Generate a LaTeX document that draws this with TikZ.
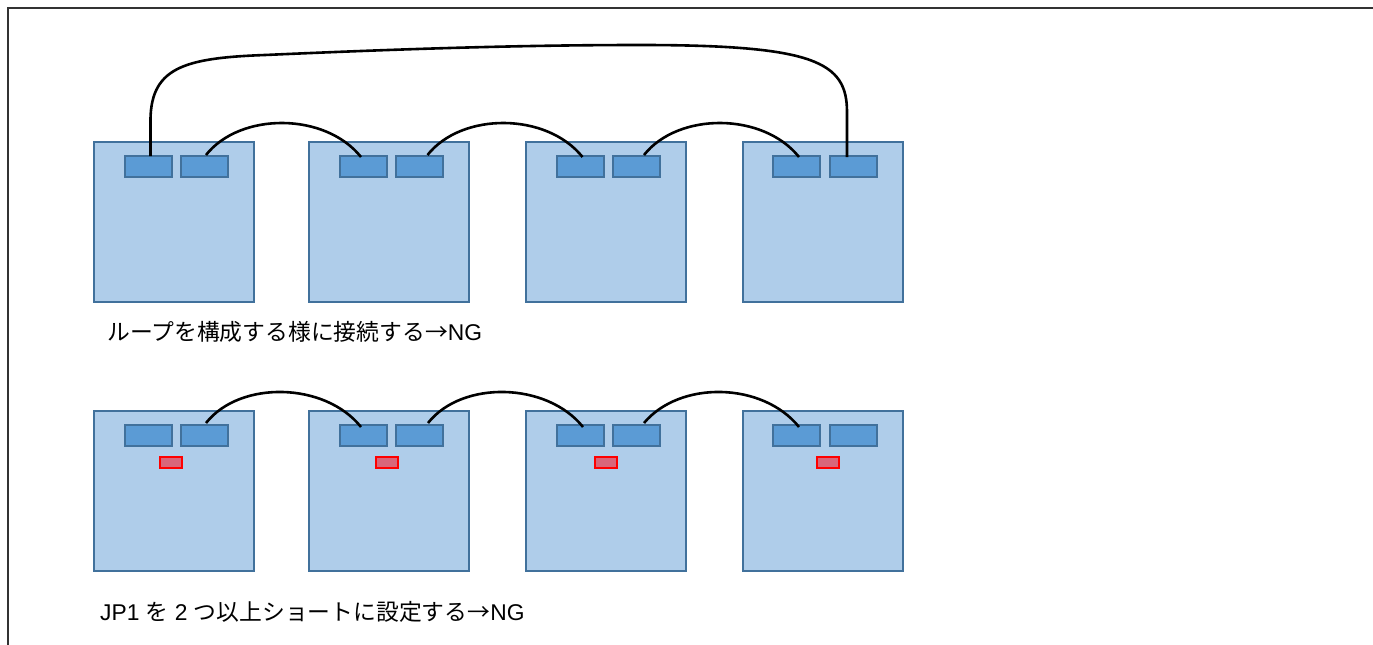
\documentclass[tikz,border=0pt]{standalone}
\usepackage{fontspec}
\setmainfont{Liberation Sans}
\newfontfamily\jp{Noto Sans CJK JP}
\usetikzlibrary{calc}
\definecolor{boxfill}{RGB}{175,205,234}
\definecolor{boxline}{RGB}{65,113,156}
\definecolor{portfill}{RGB}{91,155,213}
\definecolor{redfill}{RGB}{217,102,122}
\definecolor{frameline}{RGB}{50,50,50}
\tikzset{
  board/.style={draw=boxline, fill=boxfill, line width=2pt, minimum width=160pt, minimum height=160pt, inner sep=0pt, outer sep=0pt},
  port/.style={draw=boxline, fill=portfill, line width=2pt, minimum width=47pt, minimum height=21pt, inner sep=0pt, outer sep=0pt},
  jumper/.style={draw=red, fill=redfill, line width=2pt, minimum width=22pt, minimum height=11pt, inner sep=0pt, outer sep=0pt},
  wire/.style={draw=black, line width=2.6pt},
  caption/.style={anchor=base west, inner sep=0pt, font=\fontsize{22.8}{27}\selectfont}
}
\begin{document}
\begin{tikzpicture}[x=1pt,y=-1pt]
\useasboundingbox (0,0) rectangle (1373,645);
\draw[frameline, line width=1.5pt] (8,645) -- (8,8) -- (1373,8);
% row 1
\node[board] (a1) at (173.75,222) {};
\node[board] (a2) at (389,222) {};
\node[board] (a3) at (606,222) {};
\node[board] (a4) at (822.5,222) {};
\node[port] (p11) at (148.5,166.5) {};
\node[port] (p12) at (204.5,166.5) {};
\node[port] (p21) at (363.5,166.5) {};
\node[port] (p22) at (419.5,166.5) {};
\node[port] (p31) at (580.5,166.5) {};
\node[port] (p32) at (636.5,166.5) {};
\node[port] (p41) at (796.5,166.5) {};
\node[port] (p42) at (853.5,166.5) {};
% row 2
\node[board] (b1) at (173.75,490.5) {};
\node[board] (b2) at (389,490.5) {};
\node[board] (b3) at (606,490.5) {};
\node[board] (b4) at (822.5,490.5) {};
\node[port] (q11) at (148.5,435.5) {};
\node[port] (q12) at (204.5,435.5) {};
\node[port] (q21) at (363.5,435.5) {};
\node[port] (q22) at (419.5,435.5) {};
\node[port] (q31) at (580.5,435.5) {};
\node[port] (q32) at (636.5,435.5) {};
\node[port] (q41) at (796.5,435.5) {};
\node[port] (q42) at (853.5,435.5) {};
\node[jumper] (j1) at (171,462.5) {};
\node[jumper] (j2) at (386.5,462.5) {};
\node[jumper] (j3) at (606.3,462.5) {};
\node[jumper] (j4) at (827.8,462.5) {};
% row 1 wires
\draw[wire] ($(p12.north)+(1.5,-1)$) .. controls +(34,-43) and +(-36,-45) .. ($(p21.north)+(-2.5,1)$);
\draw[wire] ($(p22.north)+(8,-1)$) .. controls +(34,-43) and +(-36,-45) .. ($(p31.north)+(2,1)$);
\draw[wire] ($(p32.north)+(7.5,-1)$) .. controls +(34,-43) and +(-36,-45) .. ($(p41.north)+(2.5,1)$);
\draw[wire] ($(p11.north)+(2,0)$) -- (150.5,125) .. controls (149,68) and (182,58) .. (265,55)
  .. controls (400,49) and (520,45) .. (640,45)
  .. controls (815,45) and (847,62) .. (847,112) -- ($(p42.north)+(-6.5,1)$);
% row 2 wires
\draw[wire] ($(q12.north)+(1.5,-2)$) .. controls +(34,-43) and +(-36,-45) .. ($(q21.north)+(-2.5,2)$);
\draw[wire] ($(q22.north)+(8.5,-2)$) .. controls +(34,-43) and +(-36,-45) .. ($(q31.north)+(2.5,2)$);
\draw[wire] ($(q32.north)+(7.5,-2)$) .. controls +(36,-43) and +(-36,-45) .. ($(q41.north)+(2.5,2)$);
% captions
\node[caption] (t1) at (107,340) {{\jp ループを構成する様に接続する→}NG};
\node[caption] (t2) at (100,620) {JP1 {\jp を} 2 {\jp つ以上ショートに設定する→}NG};
\end{tikzpicture}
\end{document}
